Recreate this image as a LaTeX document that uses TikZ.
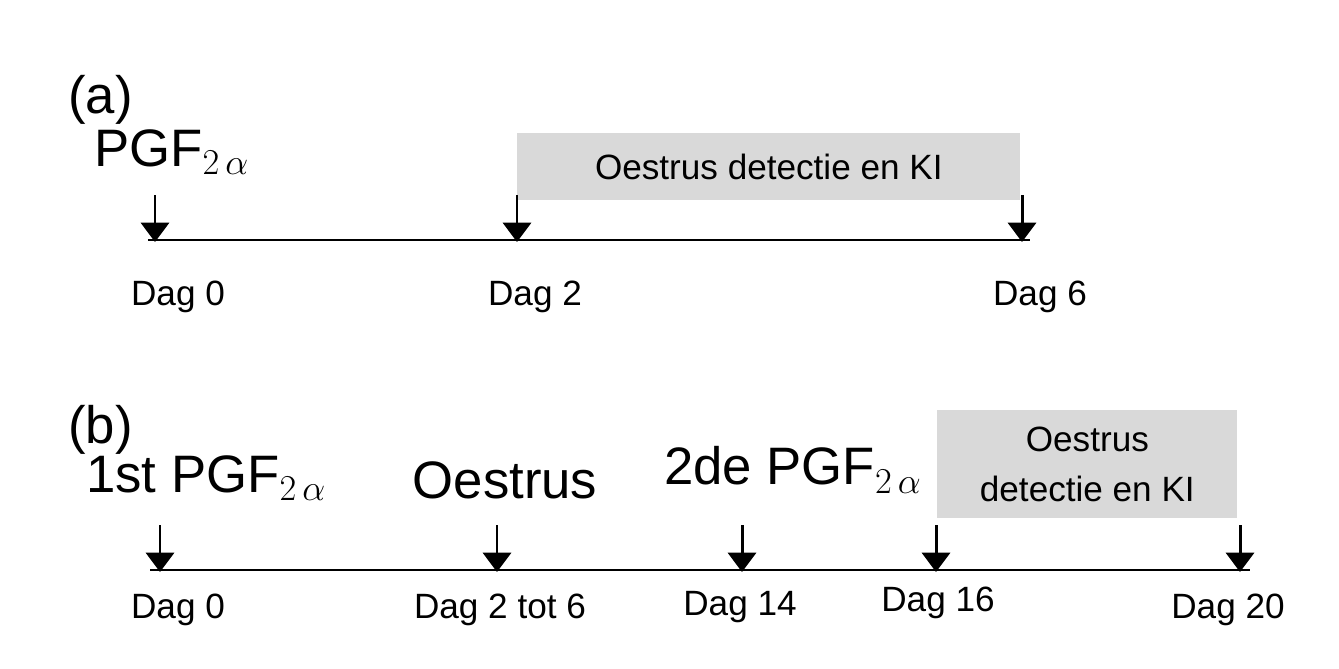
\documentclass[tikz,border=0pt]{standalone}
\usepackage{fontspec}
\setmainfont{Liberation Sans}
\usetikzlibrary{arrows.meta}
\begin{document}
\begin{tikzpicture}[x=0.02cm,y=-0.02cm,
  tl/.style={line width=1.7pt},
  ar/.style={line width=1.7pt,-{Triangle[width=16pt,length=11pt]}},
  day/.style={font=\fontsize{20}{24}\selectfont},
  big/.style={font=\fontsize{30}{36}\selectfont},
  gbox/.style={fill=black!15,draw=none}]
\useasboundingbox (0,0) rectangle (1339,669);
% (a)
\node[big,anchor=west] (la) at (62,100) {(a)};
\node[big,anchor=west] (pa) at (88,152) {PGF$_{\fontsize{14}{14}\selectfont 2\,\alpha}$};
\node[gbox,minimum width=503*0.02cm,minimum height=67*0.02cm,anchor=north west,
  font=\fontsize{20}{24}\selectfont] (ba) at (517,133) {Oestrus detectie en KI};
\coordinate (a0) at (148,240); \coordinate (a1) at (1030,240);
\draw[tl] (a0) -- (a1);
\foreach \x/\n in {155/A0,517/A1,1022/A2}{
  \coordinate (\n t) at (\x,195); \coordinate (\n b) at (\x,242);
  \draw[ar] (\n t) -- (\n b);}
\node[day] (d0) at (178,297) {Dag 0};
\node[day] (d2) at (535,297) {Dag 2};
\node[day] (d6) at (1040,297) {Dag 6};
% (b)
\node[big,anchor=west] (lb) at (62,430) {(b)};
\node[big,anchor=west] (p1) at (80,478) {1st PGF$_{\fontsize{14}{14}\selectfont 2\,\alpha}$};
\node[big] (oe) at (505,480) {Oestrus};
\node[big,anchor=west] (p2) at (658,470) {2de PGF$_{\fontsize{14}{14}\selectfont 2\,\alpha}$};
\node[gbox,minimum width=300*0.02cm,minimum height=108*0.02cm,anchor=north west,
  align=center,font=\fontsize{20}{28}\selectfont] (bb) at (937,410) {Oestrus\\detectie en KI};
\coordinate (b0) at (150,570); \coordinate (b1) at (1250,570);
\draw[tl] (b0) -- (b1);
\foreach \x/\n in {160/B0,497/B1,742/B2,936/B3,1240/B4}{
  \coordinate (\n t) at (\x,525); \coordinate (\n b) at (\x,572);
  \draw[ar] (\n t) -- (\n b);}
\node[day] (e0) at (178,610) {Dag 0};
\node[day] (e1) at (500,610) {Dag 2 tot 6};
\node[day] (e2) at (740,607) {Dag 14};
\node[day] (e3) at (938,603) {Dag 16};
\node[day] (e4) at (1228,610) {Dag 20};
\end{tikzpicture}
\end{document}
